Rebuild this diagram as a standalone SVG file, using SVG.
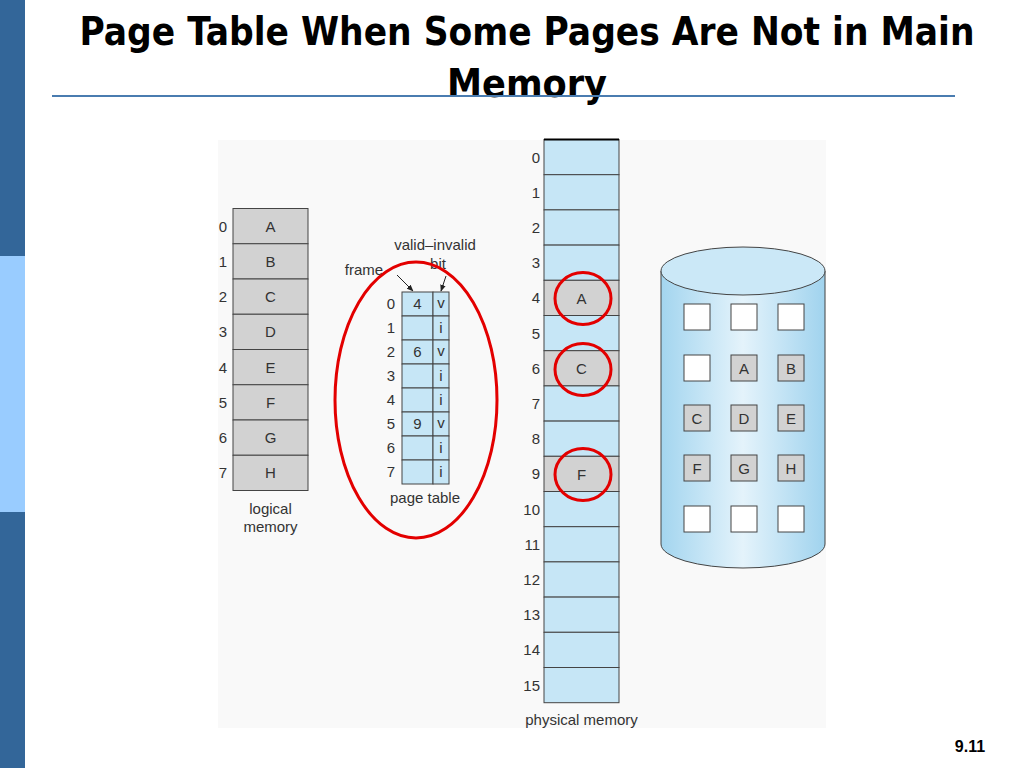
<svg xmlns="http://www.w3.org/2000/svg" width="1024" height="768" viewBox="0 0 1024 768">
<defs>
<linearGradient id="cyl" x1="0" y1="0" x2="1" y2="0">
<stop offset="0" stop-color="#a3d5ef"/>
<stop offset="0.5" stop-color="#e4f3fb"/>
<stop offset="1" stop-color="#a0d3ee"/>
</linearGradient>
<marker id="ah" viewBox="0 0 10 10" refX="9" refY="5" markerWidth="7" markerHeight="7" orient="auto">
<path d="M0,1 L10,5 L0,9 z" fill="#222"/>
</marker>
<style>
.t{font-family:"Liberation Sans",Arial,sans-serif;font-size:15px;fill:#333;text-anchor:middle}
.n{font-family:"Liberation Sans",Arial,sans-serif;font-size:15px;fill:#333;text-anchor:end}
.g{fill:#d2d2d2;stroke:#444;stroke-width:1}
.b{fill:#c6e6f6;stroke:#444;stroke-width:1}
.w{fill:#ffffff;stroke:#444;stroke-width:1}
.red{fill:none;stroke:#e30000;stroke-width:3}
.title{font-family:"DejaVu Sans Condensed","Liberation Sans Narrow","Liberation Sans",sans-serif;font-weight:bold;font-size:39px;fill:#000;text-anchor:middle}
</style>
</defs>
<rect x="0" y="0" width="1024" height="768" fill="#ffffff"/>
<rect x="0" y="0" width="25" height="256" fill="#336699"/>
<rect x="0" y="256" width="25" height="256" fill="#99ccff"/>
<rect x="0" y="512" width="25" height="256" fill="#336699"/>
<rect x="218" y="140" width="608" height="588" fill="#f9f9f9"/>
<g id="title">
<text class="title" x="527" y="45" textLength="895" lengthAdjust="spacingAndGlyphs">Page Table When Some Pages Are Not in Main</text>
<text class="title" x="527" y="97" textLength="160" lengthAdjust="spacingAndGlyphs">Memory</text>
<line x1="52" y1="96" x2="955" y2="96" stroke="#4a7cb0" stroke-width="2"/>
</g>
<g id="logical-memory">
<rect class="g" x="233" y="208.5" width="75" height="35.25"/>
<rect class="g" x="233" y="243.75" width="75" height="35.25"/>
<rect class="g" x="233" y="279" width="75" height="35.25"/>
<rect class="g" x="233" y="314.25" width="75" height="35.25"/>
<rect class="g" x="233" y="349.5" width="75" height="35.25"/>
<rect class="g" x="233" y="384.75" width="75" height="35.25"/>
<rect class="g" x="233" y="420" width="75" height="35.25"/>
<rect class="g" x="233" y="455.25" width="75" height="35.25"/>
<text class="t" x="270.5" y="231.5">A</text>
<text class="t" x="270.5" y="266.7">B</text>
<text class="t" x="270.5" y="302">C</text>
<text class="t" x="270.5" y="337.2">D</text>
<text class="t" x="270.5" y="372.5">E</text>
<text class="t" x="270.5" y="407.7">F</text>
<text class="t" x="270.5" y="443">G</text>
<text class="t" x="270.5" y="478.2">H</text>
<text class="t" x="223" y="231.5">0</text>
<text class="t" x="223" y="266.7">1</text>
<text class="t" x="223" y="302">2</text>
<text class="t" x="223" y="337.2">3</text>
<text class="t" x="223" y="372.5">4</text>
<text class="t" x="223" y="407.7">5</text>
<text class="t" x="223" y="443">6</text>
<text class="t" x="223" y="478.2">7</text>
<text class="t" x="270.5" y="514">logical</text>
<text class="t" x="270.5" y="532">memory</text>
</g>
<g id="page-table">
<rect class="b" x="402" y="292" width="31" height="24"/>
<rect class="b" x="433" y="292" width="16" height="24"/>
<rect class="b" x="402" y="316" width="31" height="24"/>
<rect class="b" x="433" y="316" width="16" height="24"/>
<rect class="b" x="402" y="340" width="31" height="24"/>
<rect class="b" x="433" y="340" width="16" height="24"/>
<rect class="b" x="402" y="364" width="31" height="24"/>
<rect class="b" x="433" y="364" width="16" height="24"/>
<rect class="b" x="402" y="388" width="31" height="24"/>
<rect class="b" x="433" y="388" width="16" height="24"/>
<rect class="b" x="402" y="412" width="31" height="24"/>
<rect class="b" x="433" y="412" width="16" height="24"/>
<rect class="b" x="402" y="436" width="31" height="24"/>
<rect class="b" x="433" y="436" width="16" height="24"/>
<rect class="b" x="402" y="460" width="31" height="24"/>
<rect class="b" x="433" y="460" width="16" height="24"/>
<text class="t" x="391" y="309">0</text>
<text class="t" x="391" y="333">1</text>
<text class="t" x="391" y="357">2</text>
<text class="t" x="391" y="381">3</text>
<text class="t" x="391" y="405">4</text>
<text class="t" x="391" y="429">5</text>
<text class="t" x="391" y="453">6</text>
<text class="t" x="391" y="477">7</text>
<text class="t" x="417.5" y="309">4</text>
<text class="t" x="417.5" y="357">6</text>
<text class="t" x="417.5" y="429">9</text>
<text class="t" x="441" y="308">v</text>
<text class="t" x="441" y="333">i</text>
<text class="t" x="441" y="356">v</text>
<text class="t" x="441" y="381">i</text>
<text class="t" x="441" y="405">i</text>
<text class="t" x="441" y="428">v</text>
<text class="t" x="441" y="453">i</text>
<text class="t" x="441" y="477">i</text>
<text class="t" x="364" y="275">frame</text>
<text class="t" x="435" y="250">valid–invalid</text>
<text class="t" x="438" y="269">bit</text>
<text class="t" x="425" y="503">page table</text>
</g>
<g id="physical-memory">
<rect class="b" x="544" y="139.5" width="75" height="35.2"/>
<rect class="b" x="544" y="174.7" width="75" height="35.2"/>
<rect class="b" x="544" y="209.9" width="75" height="35.2"/>
<rect class="b" x="544" y="245.1" width="75" height="35.2"/>
<rect class="g" x="544" y="280.3" width="75" height="35.2"/>
<rect class="b" x="544" y="315.5" width="75" height="35.2"/>
<rect class="g" x="544" y="350.7" width="75" height="35.2"/>
<rect class="b" x="544" y="385.9" width="75" height="35.2"/>
<rect class="b" x="544" y="421.1" width="75" height="35.2"/>
<rect class="g" x="544" y="456.3" width="75" height="35.2"/>
<rect class="b" x="544" y="491.5" width="75" height="35.2"/>
<rect class="b" x="544" y="526.7" width="75" height="35.2"/>
<rect class="b" x="544" y="561.9" width="75" height="35.2"/>
<rect class="b" x="544" y="597.1" width="75" height="35.2"/>
<rect class="b" x="544" y="632.3" width="75" height="35.2"/>
<rect class="b" x="544" y="667.5" width="75" height="35.2"/>
<line x1="544" y1="139.5" x2="619" y2="139.5" stroke="#000" stroke-width="2"/>
<text class="t" x="581.5" y="303.5">A</text>
<text class="t" x="581.5" y="374">C</text>
<text class="t" x="581.5" y="479.5">F</text>
<text class="n" x="540" y="162.6">0</text>
<text class="n" x="540" y="197.8">1</text>
<text class="n" x="540" y="233">2</text>
<text class="n" x="540" y="268.2">3</text>
<text class="n" x="540" y="303.4">4</text>
<text class="n" x="540" y="338.6">5</text>
<text class="n" x="540" y="373.8">6</text>
<text class="n" x="540" y="409">7</text>
<text class="n" x="540" y="444.2">8</text>
<text class="n" x="540" y="479.4">9</text>
<text class="n" x="540" y="514.6">10</text>
<text class="n" x="540" y="549.8">11</text>
<text class="n" x="540" y="585">12</text>
<text class="n" x="540" y="620.2">13</text>
<text class="n" x="540" y="655.4">14</text>
<text class="n" x="540" y="690.6">15</text>
<text class="t" x="581.5" y="725">physical memory</text>
</g>
<g id="disk">
<path d="M661,271 L661,544 A82,24 0 0 0 825,544 L825,271 Z" fill="url(#cyl)" stroke="#444" stroke-width="1"/>
<ellipse cx="743" cy="271" rx="82" ry="24" fill="#cbe8f7" stroke="#444" stroke-width="1"/>
<rect class="w" x="684" y="304" width="26" height="26"/>
<rect class="w" x="731" y="304" width="26" height="26"/>
<rect class="w" x="778" y="304" width="26" height="26"/>
<rect class="w" x="684" y="355" width="26" height="26"/>
<rect class="g" x="731" y="355" width="26" height="26"/>
<rect class="g" x="778" y="355" width="26" height="26"/>
<rect class="g" x="684" y="405" width="26" height="26"/>
<rect class="g" x="731" y="405" width="26" height="26"/>
<rect class="g" x="778" y="405" width="26" height="26"/>
<rect class="g" x="684" y="455" width="26" height="26"/>
<rect class="g" x="731" y="455" width="26" height="26"/>
<rect class="g" x="778" y="455" width="26" height="26"/>
<rect class="w" x="684" y="506" width="26" height="26"/>
<rect class="w" x="731" y="506" width="26" height="26"/>
<rect class="w" x="778" y="506" width="26" height="26"/>
<text class="t" x="744" y="373.5">A</text>
<text class="t" x="791" y="373.5">B</text>
<text class="t" x="697" y="423.5">C</text>
<text class="t" x="744" y="423.5">D</text>
<text class="t" x="791" y="423.5">E</text>
<text class="t" x="697" y="473.5">F</text>
<text class="t" x="744" y="473.5">G</text>
<text class="t" x="791" y="473.5">H</text>
</g>
<g id="connectors">
<line x1="397" y1="275" x2="413" y2="291" stroke="#222" stroke-width="1" marker-end="url(#ah)"/>
<line x1="446" y1="276" x2="441" y2="291" stroke="#222" stroke-width="1" marker-end="url(#ah)"/>
</g>
<g id="highlights">
<ellipse class="red" cx="416" cy="400" rx="81" ry="138"/>
<ellipse class="red" cx="583" cy="298.5" rx="28" ry="26"/>
<ellipse class="red" cx="583" cy="369.5" rx="28" ry="26"/>
<ellipse class="red" cx="583" cy="474.5" rx="28" ry="26"/>
</g>
<text x="970" y="752" font-family="Liberation Sans,Arial,sans-serif" font-weight="bold" font-size="16" text-anchor="middle" fill="#000">9.11</text>
</svg>
